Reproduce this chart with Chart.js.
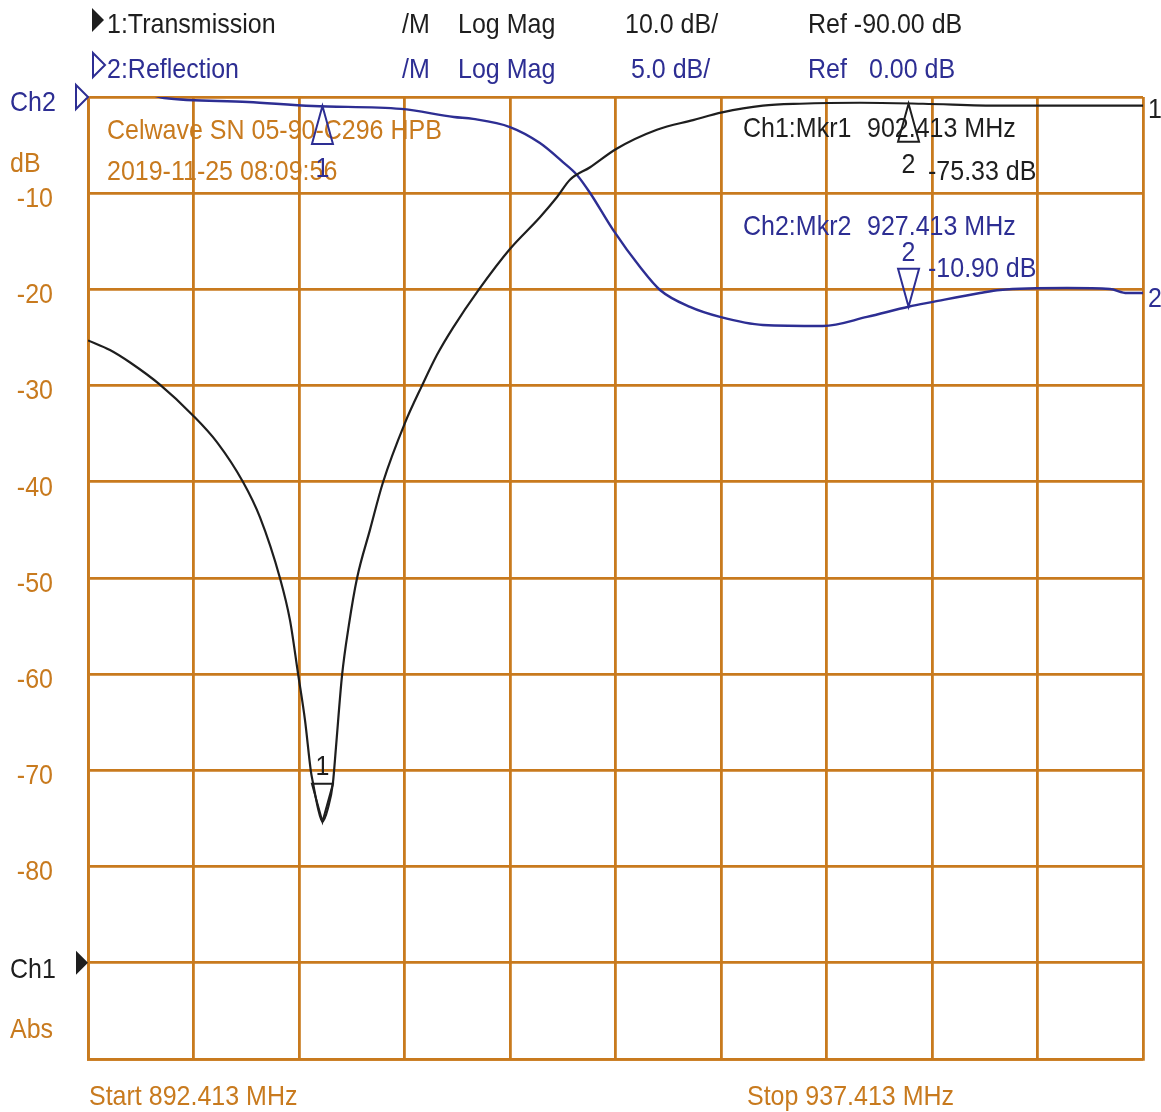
<!DOCTYPE html>
<html>
<head>
<meta charset="utf-8">
<script src="https://cdn.jsdelivr.net/npm/chart.js@4/dist/chart.umd.min.js"></script>
<style>
  html, body { margin: 0; padding: 0; background: #fff; }
  canvas { display: block; }
</style>
</head>
<body>
<canvas id="vna" width="1161" height="1112"></canvas>
<script>
// sweep and grid
const startFreq = 892.413;
const stopFreq = 937.413;
const xGridFreqs = [892.413, 896.913, 901.413, 905.913, 910.413, 914.913, 919.413, 923.913, 928.413, 932.913, 937.413];
const yTickValues = [-10, -20, -30, -40, -50, -60, -70, -80];
const yTickLabels = ["-10", "-20", "-30", "-40", "-50", "-60", "-70", "-80"];

// Ch1: Transmission (10 dB/div, ref -90 dB)
const ch1Freqs = [892.413, 893.35, 894.21, 895.48, 896.89, 897.92, 899.02, 899.75, 900.60, 901.03,
  901.37, 901.67, 901.92, 902.01, 902.22, 902.413, 902.65, 902.86, 902.99, 903.25,
  903.54, 903.89, 904.44, 904.99, 905.93, 906.66, 907.30, 907.98, 909.09, 910.41,
  911.69, 912.42, 912.97, 913.83, 914.94, 916.68, 918.22, 919.46, 921.20, 922.78,
  925.34, 928.03, 931.31, 937.413];
const ch1Db = [-25.3, -26.3, -27.6, -29.9, -33.1, -35.9, -40.0, -43.7, -50.0, -54.4,
  -59.9, -64.8, -70.1, -71.3, -73.9, -75.33, -73.9, -71.3, -67.6, -60.1,
  -54.9, -50.0, -45.0, -40.1, -33.9, -30.0, -26.8, -24.0, -20.0, -15.8,
  -12.5, -10.4, -8.6, -7.3, -5.4, -3.4, -2.4, -1.6, -0.9, -0.7,
  -0.6, -0.7, -0.9, -0.9];

// Ch2: Reflection (5 dB/div, ref 0 dB)
const ch2Freqs = [892.413, 895.06, 895.66, 899.24, 902.01, 905.76, 908.02, 908.84, 910.41, 911.69,
  912.67, 913.27, 913.83, 914.81, 915.96, 916.81, 918.09, 919.37, 921.20, 923.76,
  925.64, 927.413, 928.46, 930.46, 931.31, 934.17, 936.00, 936.73, 937.413];
const ch2Db = [0.16, 0.1, -0.05, -0.26, -0.47, -0.62, -1.04, -1.14, -1.56, -2.39,
  -3.38, -4.05, -4.99, -6.91, -8.84, -10.03, -10.91, -11.43, -11.85, -11.9,
  -11.43, -10.90, -10.65, -10.19, -10.03, -9.93, -9.98, -10.19, -10.19];

// markers
const mkrFreqs = [902.413, 927.413];
const mkrCh1Db = [-75.33, -0.7];
const mkrCh2Db = [-0.47, -10.90];

const ORANGE = "#c87a1e";
const BLUE = "#2d2e93";
const BLACK = "#1e1e1e";
const FONT = '25px "Liberation Sans", Arial, sans-serif';

function toPoints(xs, ys) {
  return xs.map((x, i) => ({ x: x, y: ys[i] }));
}

function text(ctx, str, x, y, color, align) {
  ctx.save();
  ctx.font = FONT;
  ctx.fillStyle = color;
  ctx.textAlign = align || "left";
  ctx.textBaseline = "middle";
  ctx.translate(x, y);
  ctx.scale(1, 1.12);
  ctx.fillText(str, 0, 0);
  ctx.restore();
}

function tri(ctx, x, yApex, dir, color) {
  // dir 1: apex on top (points up), -1: apex at bottom (points down)
  const h = 38 * dir, w = 10.5;
  ctx.save();
  ctx.beginPath();
  ctx.moveTo(x, yApex);
  ctx.lineTo(x - w, yApex + h);
  ctx.lineTo(x + w, yApex + h);
  ctx.closePath();
  ctx.lineWidth = 2;
  ctx.strokeStyle = color;
  ctx.stroke();
  ctx.restore();
}

function sideArrow(ctx, x, y, color, filled) {
  ctx.save();
  ctx.beginPath();
  ctx.moveTo(x, y - 12);
  ctx.lineTo(x + 12, y);
  ctx.lineTo(x, y + 12);
  ctx.closePath();
  if (filled) {
    ctx.fillStyle = color;
    ctx.fill();
  } else {
    ctx.lineWidth = 2;
    ctx.strokeStyle = color;
    ctx.stroke();
  }
  ctx.restore();
}

const vnaOverlay = {
  id: "vnaOverlay",
  afterDatasetsDraw(chart) {
    const ctx = chart.ctx;
    const xs = chart.scales.x, y1 = chart.scales.y, y2 = chart.scales.y2;

    // header
    sideArrow(ctx, 92, 20, BLACK, true);
    text(ctx, "1:Transmission", 107, 25, BLACK);
    text(ctx, "/M", 402, 25, BLACK);
    text(ctx, "Log Mag", 458, 25, BLACK);
    text(ctx, "10.0 dB/", 625, 25, BLACK);
    text(ctx, "Ref -90.00 dB", 808, 25, BLACK);
    sideArrow(ctx, 93, 65, BLUE, false);
    text(ctx, "2:Reflection", 107, 70, BLUE);
    text(ctx, "/M", 402, 70, BLUE);
    text(ctx, "Log Mag", 458, 70, BLUE);
    text(ctx, "5.0 dB/", 631, 70, BLUE);
    text(ctx, "Ref", 808, 70, BLUE);
    text(ctx, "0.00 dB", 869, 70, BLUE);

    // left side
    text(ctx, "Ch2", 10, 103, BLUE);
    sideArrow(ctx, 76, y2.getPixelForValue(0), BLUE, false);
    text(ctx, "dB", 10, 164, ORANGE);
    yTickValues.forEach((v, i) => {
      text(ctx, yTickLabels[i], 53, y1.getPixelForValue(v) + 6, ORANGE, "right");
    });
    text(ctx, "Ch1", 10, 970, BLACK);
    sideArrow(ctx, 76, y1.getPixelForValue(-90), BLACK, true);
    text(ctx, "Abs", 10, 1030, ORANGE);

    // bottom
    text(ctx, "Start " + startFreq.toFixed(3) + " MHz", 89, 1097, ORANGE);
    text(ctx, "Stop " + stopFreq.toFixed(3) + " MHz", 747, 1097, ORANGE);

    // title block
    text(ctx, "Celwave SN 05-90-C296 HPB", 107, 131, ORANGE);
    text(ctx, "2019-11-25 08:09:56", 107, 172, ORANGE);

    // trace end labels
    text(ctx, "1", 1148, y1.getPixelForValue(ch1Db[ch1Db.length - 1]) + 5, BLACK);
    text(ctx, "2", 1148, y2.getPixelForValue(ch2Db[ch2Db.length - 1]) + 6, BLUE);

    // markers on Ch1
    const m1x = xs.getPixelForValue(mkrFreqs[0]);
    const m2x = xs.getPixelForValue(mkrFreqs[1]);
    const c1m1 = y1.getPixelForValue(mkrCh1Db[0]);
    tri(ctx, m1x, c1m1, -1, BLACK);
    text(ctx, "1", m1x, c1m1 - 38 - 16, BLACK, "center");
    const c1m2 = y1.getPixelForValue(mkrCh1Db[1]);
    tri(ctx, m2x, c1m2, 1, BLACK);
    text(ctx, "2", m2x, c1m2 + 38 + 24, BLACK, "center");

    // markers on Ch2
    const c2m1 = y2.getPixelForValue(mkrCh2Db[0]);
    tri(ctx, m1x, c2m1, 1, BLUE);
    text(ctx, "1", m1x, c2m1 + 38 + 25, BLUE, "center");
    const c2m2 = y2.getPixelForValue(mkrCh2Db[1]);
    tri(ctx, m2x, c2m2, -1, BLUE);
    text(ctx, "2", m2x, c2m2 - 38 - 15, BLUE, "center");

    // marker readouts
    text(ctx, "Ch1:Mkr1", 743, 129, BLACK);
    text(ctx, mkrFreqs[0].toFixed(3) + " MHz", 867, 129, BLACK);
    text(ctx, mkrCh1Db[0].toFixed(2) + " dB", 928, 172, BLACK);
    text(ctx, "Ch2:Mkr2", 743, 227, BLUE);
    text(ctx, mkrFreqs[1].toFixed(3) + " MHz", 867, 227, BLUE);
    text(ctx, mkrCh2Db[1].toFixed(2) + " dB", 928, 269, BLUE);
  }
};

const zeroFit = (axis) => {
  if (axis.isHorizontal()) axis.height = 0; else axis.width = 0;
};

new Chart(document.getElementById("vna").getContext("2d"), {
  type: "line",
  data: {
    datasets: [
      {
        label: "1:Transmission",
        data: toPoints(ch1Freqs, ch1Db),
        yAxisID: "y",
        borderColor: BLACK,
        borderWidth: 2.2,
        pointRadius: 0,
        cubicInterpolationMode: "monotone"
      },
      {
        label: "2:Reflection",
        data: toPoints(ch2Freqs, ch2Db),
        yAxisID: "y2",
        borderColor: BLUE,
        borderWidth: 2.4,
        pointRadius: 0,
        cubicInterpolationMode: "monotone"
      }
    ]
  },
  options: {
    responsive: false,
    animation: false,
    devicePixelRatio: 1,
    layout: { padding: { left: 88, right: 18, top: 97, bottom: 53 } },
    plugins: {
      legend: { display: false },
      tooltip: { enabled: false }
    },
    scales: {
      x: {
        type: "linear",
        min: startFreq,
        max: stopFreq,
        afterBuildTicks: (axis) => { axis.ticks = xGridFreqs.map(v => ({ value: v })); },
        afterFit: zeroFit,
        ticks: { display: false },
        grid: { color: ORANGE, lineWidth: 2.8, drawTicks: false },
        border: { color: ORANGE, width: 2.8 }
      },
      y: {
        min: -100,
        max: 0,
        ticks: { display: false, stepSize: 10 },
        afterFit: zeroFit,
        grid: { color: ORANGE, lineWidth: 2.8, drawTicks: false },
        border: { color: ORANGE, width: 2.8 }
      },
      y2: {
        display: false,
        min: -50,
        max: 0
      }
    }
  },
  plugins: [vnaOverlay]
});
</script>
</body>
</html>
